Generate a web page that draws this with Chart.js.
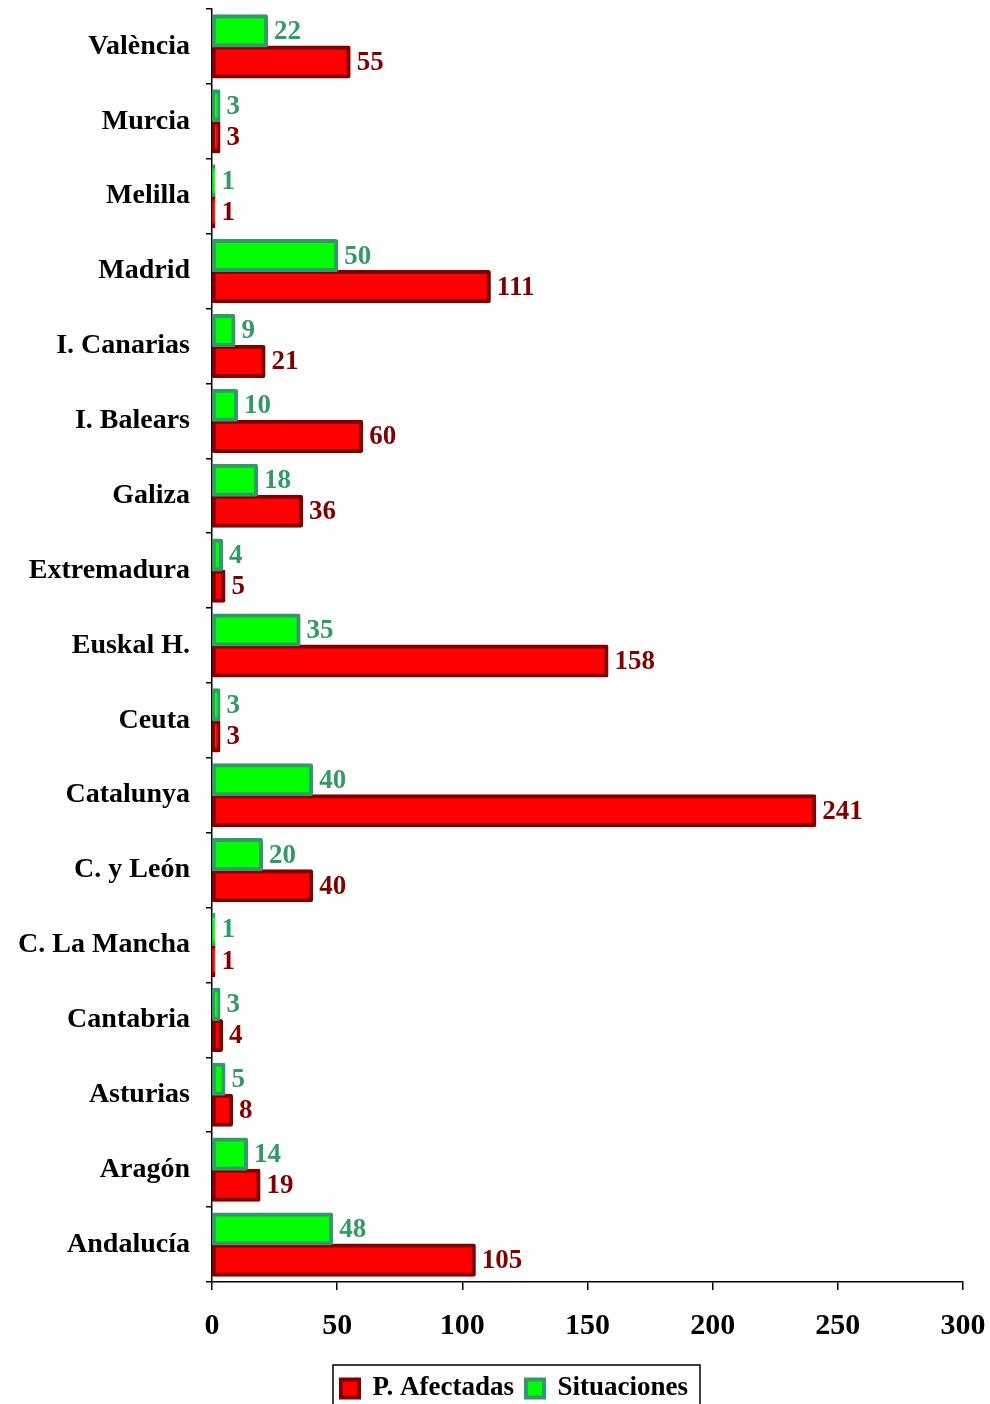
<!DOCTYPE html>
<html>
<head>
<meta charset="utf-8">
<script src="https://cdn.jsdelivr.net/npm/chart.js@4/dist/chart.umd.min.js"></script>
<style>
  html, body { margin: 0; padding: 0; background: #fff; }
  #wrap { width: 990px; height: 1404px; }
</style>
</head>
<body>
<div id="wrap"><canvas id="chart" width="990" height="1404"></canvas></div>
<script>
"use strict";

// Comunitats, de dalt a baix
const regions = [
    'València', 'Murcia', 'Melilla', 'Madrid', 'I. Canarias', 'I. Balears',
    'Galiza', 'Extremadura', 'Euskal H.', 'Ceuta', 'Catalunya', 'C. y León',
    'C. La Mancha', 'Cantabria', 'Asturias', 'Aragón', 'Andalucía'
];
const situaciones = [22, 3, 1, 50, 9, 10, 18, 4, 35, 3, 40, 20, 1, 3, 5, 14, 48];
const afectadas = [55, 3, 1, 111, 21, 60, 36, 5, 158, 3, 241, 40, 1, 4, 8, 19, 105];
const xTicks = [0, 50, 100, 150, 200, 250, 300];

const SERIF = '"Liberation Serif", "Times New Roman", serif';

// etiquetes de valor al final de cada barra
const valueLabels = {
    id: 'valueLabels',
    afterDatasetsDraw(chart) {
        const ctx = chart.ctx;
        ctx.save();
        ctx.font = 'bold 27px ' + SERIF;
        ctx.textAlign = 'left';
        ctx.textBaseline = 'middle';
        chart.data.datasets.forEach((ds, i) => {
            const meta = chart.getDatasetMeta(i);
            ctx.fillStyle = ds.labelColor;
            meta.data.forEach((bar, j) => {
                ctx.fillText(String(ds.data[j]), bar.x + 7, bar.y + 1);
            });
        });
        ctx.restore();
    }
};

// llegenda una mica més avall i a la dreta, amb marc
const legendFrame = {
    id: 'legendFrame',
    afterLayout(chart) {
        const lg = chart.legend;
        if (!lg) return;
        const h = lg.bottom - lg.top;
        lg.top = 1363;
        lg.bottom = lg.top + h;
        lg.left += 33;
        lg.right += 33;
    },
    afterDraw(chart) {
        const lg = chart.legend;
        if (!lg || !lg.legendHitBoxes.length) return;
        const boxes = lg.legendHitBoxes;
        const last = boxes[boxes.length - 1];
        const left = boxes[0].left - 8;
        const right = last.left + last.width + 12;
        const top = boxes[0].top - 10;
        const ctx = chart.ctx;
        ctx.save();
        ctx.strokeStyle = '#000';
        ctx.lineWidth = 1.5;
        ctx.strokeRect(left, top, right - left, 80);
        ctx.restore();
    }
};

new Chart(document.getElementById('chart'), {
    type: 'bar',
    data: {
        labels: regions,
        datasets: [
            {
                label: 'Situaciones',
                data: situaciones,
                backgroundColor: '#00ff00',
                borderColor: '#339966',
                labelColor: '#339966',
                borderWidth: 4,
                borderRadius: 2,
                borderSkipped: false,
                inflateAmount: 1
            },
            {
                label: 'P. Afectadas',
                data: afectadas,
                backgroundColor: '#ff0000',
                borderColor: '#800000',
                labelColor: '#800000',
                borderWidth: 4,
                borderRadius: 2,
                borderSkipped: false,
                inflateAmount: 1
            }
        ]
    },
    options: {
        indexAxis: 'y',
        responsive: false,
        animation: false,
        devicePixelRatio: 1,
        datasets: {
            bar: { barPercentage: 1.0, categoryPercentage: 0.83 }
        },
        layout: { padding: { top: 9, right: 27, left: 0, bottom: 0 } },
        scales: {
            x: {
                min: 0,
                max: 300,
                afterBuildTicks: s => { s.ticks = xTicks.map(v => ({ value: v })); },
                afterFit: s => {
                    s.height = 122 - (s.chart.legend ? s.chart.legend.height : 40);
                    s.paddingLeft = 0;
                    s.paddingRight = 0;
                },
                grid: { drawOnChartArea: false, color: '#000', tickLength: 8, lineWidth: 1.5 },
                border: { color: '#000', width: 1.5 },
                ticks: {
                    color: '#000',
                    padding: 18,
                    maxRotation: 0,
                    font: { family: SERIF, size: 30, weight: 'bold' }
                }
            },
            y: {
                afterFit: s => {
                    s.width = 212;
                    s.paddingTop = 0;
                    s.paddingBottom = 0;
                },
                grid: { drawOnChartArea: false, color: '#000', tickLength: 6, lineWidth: 1.5, offset: true },
                border: { color: '#000', width: 1.5 },
                ticks: {
                    color: '#000',
                    padding: 16,
                    font: { family: SERIF, size: 28, weight: 'bold' }
                }
            }
        },
        plugins: {
            tooltip: { enabled: false },
            legend: {
                position: 'bottom',
                reverse: true,
                labels: {
                    color: '#000',
                    boxWidth: 18,
                    boxHeight: 18,
                    padding: 12,
                    font: { family: SERIF, size: 27, weight: 'bold' }
                }
            }
        }
    },
    plugins: [valueLabels, legendFrame]
});
</script>
</body>
</html>
